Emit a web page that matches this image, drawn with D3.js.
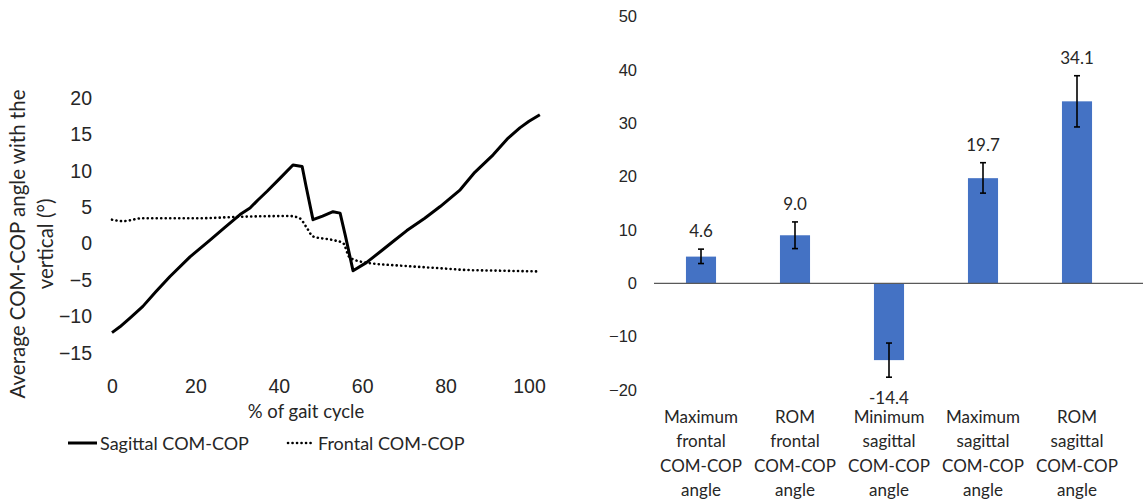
<!DOCTYPE html>
<html>
<head>
<meta charset="utf-8">
<script src="https://cdn.jsdelivr.net/npm/d3@7"></script>
<style>
  body { margin: 0; background: #fff; }
  svg { display: block; font-family: Lato, "Open Sans", sans-serif; }
  .tick text { fill: #262626; }
</style>
</head>
<body>
<svg width="1144" height="500"></svg>
<script>
// left panel: average COM-COP angle over the gait cycle
var sagittalPct = [0, 1.9, 4.5, 7.4, 10.5, 13.9, 18.7, 23.5, 27, 30.7, 33.1, 35, 37.2, 40.5, 43.4, 45.6, 46.5, 48.2, 50.5, 53, 54.7, 56, 57.8, 61, 65, 67.4, 70.7, 75, 78.7, 83.5, 87, 91.4, 95, 97.8, 100, 102.6];
var sagittalDeg = [-12.2, -11.4, -10.1, -8.6, -6.6, -4.5, -1.8, 0.5, 2.2, 4.0, 4.9, 6.0, 7.2, 9.1, 10.8, 10.6, 8.0, 3.3, 3.8, 4.4, 4.2, 1.0, -3.7, -2.6, -0.8, 0.3, 1.8, 3.5, 5.1, 7.4, 9.8, 12.2, 14.5, 15.9, 16.8, 17.7];
var frontalPct = [0, 2.6, 7.4, 21, 30.7, 42.7, 45, 46.7, 48.2, 53, 55.4, 57, 61, 69, 77, 85, 93, 101.9];
var frontalDeg = [3.3, 3.1, 3.5, 3.5, 3.7, 3.8, 3.5, 2.2, 1.0, 0.5, 0.1, -1.9, -2.6, -3.0, -3.3, -3.6, -3.7, -3.8];
var leftTicksX = [0, 20, 40, 60, 80, 100];
var leftTicksY = [-15, -10, -5, 0, 5, 10, 15, 20];

// right panel: summary angles (mean +/- SD)
var categories = [
  ["Maximum", "frontal", "COM-COP", "angle"],
  ["ROM", "frontal", "COM-COP", "angle"],
  ["Minimum", "sagittal", "COM-COP", "angle"],
  ["Maximum", "sagittal", "COM-COP", "angle"],
  ["ROM", "sagittal", "COM-COP", "angle"]
];
var barValues = [5.0, 9.0, -14.4, 19.7, 34.1];
var barLabels = ["4.6", "9.0", "-14.4", "19.7", "34.1"];
var errLow = [3.7, 6.5, -17.6, 16.9, 29.3];
var errHigh = [6.4, 11.5, -11.2, 22.6, 38.9];
var rightTicksY = [-20, -10, 0, 10, 20, 30, 40, 50];

var svg = d3.select("svg");

// ---------- left line chart ----------
var x = d3.scaleLinear().domain([0, 100]).range([112, 529]);
var y = d3.scaleLinear().domain([-15, 20]).range([353, 98]);

var gx = svg.append("g")
    .attr("transform", "translate(0," + 372 + ")")
    .call(d3.axisBottom(x).tickValues(leftTicksX).tickSize(0).tickPadding(7));
gx.select(".domain").remove();
gx.selectAll("text").attr("font-size", 19.5);

var gy = svg.append("g")
    .attr("transform", "translate(" + 92 + ",0)")
    .call(d3.axisLeft(y).tickValues(leftTicksY).tickSize(0).tickPadding(0));
gy.select(".domain").remove();
gy.selectAll("text").attr("font-size", 19.5);

var line = d3.line()
    .x(function(d) { return x(d[0]); })
    .y(function(d) { return y(d[1]); })
    .curve(d3.curveMonotoneX);

svg.append("path")
    .datum(d3.zip(frontalPct, frontalDeg))
    .attr("fill", "none")
    .attr("stroke", "#000")
    .attr("stroke-width", 2.6)
    .attr("stroke-linecap", "round")
    .attr("stroke-dasharray", "0.1 4.4")
    .attr("d", line);

svg.append("path")
    .datum(d3.zip(sagittalPct, sagittalDeg))
    .attr("fill", "none")
    .attr("stroke", "#000")
    .attr("stroke-width", 3)
    .attr("stroke-linejoin", "round")
    .attr("d", line.curve(d3.curveLinear));

svg.append("text")
    .attr("x", 306).attr("y", 418)
    .attr("text-anchor", "middle")
    .attr("font-size", 18.5)
    .attr("fill", "#262626")
    .text("% of gait cycle");

var ytitle = svg.append("text")
    .attr("transform", "translate(0,244) rotate(-90)")
    .attr("text-anchor", "middle")
    .attr("font-size", 20.5)
    .attr("fill", "#262626");
ytitle.append("tspan").attr("x", 0).attr("y", 25).text("Average COM-COP angle with the");
ytitle.append("tspan").attr("x", 0).attr("y", 53).text("vertical (°)");

// legend
var legend = svg.append("g").attr("font-size", 18).attr("fill", "#262626");
legend.append("line")
    .attr("x1", 68).attr("x2", 97).attr("y1", 443).attr("y2", 443)
    .attr("stroke", "#000").attr("stroke-width", 3);
legend.append("text").attr("x", 100).attr("y", 449.5).text("Sagittal COM-COP");
legend.append("line")
    .attr("x1", 288).attr("x2", 315).attr("y1", 443).attr("y2", 443)
    .attr("stroke", "#000").attr("stroke-width", 2.6)
    .attr("stroke-linecap", "round").attr("stroke-dasharray", "0.1 4.4");
legend.append("text").attr("x", 318).attr("y", 449.5).text("Frontal COM-COP");

// ---------- right bar chart ----------
var xb = d3.scaleBand()
    .domain(d3.range(categories.length))
    .range([654, 1124])
    .paddingInner(0.68)
    .paddingOuter(0.34);
var yb = d3.scaleLinear().domain([-20, 50]).range([390, 16.5]);

var gyb = svg.append("g")
    .attr("transform", "translate(" + 637 + ",0)")
    .call(d3.axisLeft(yb).tickValues(rightTicksY).tickSize(0).tickPadding(0));
gyb.select(".domain").remove();
gyb.selectAll("text").attr("font-size", 16.5);

svg.append("g").selectAll("rect")
    .data(barValues)
  .enter().append("rect")
    .attr("x", function(d, i) { return xb(i); })
    .attr("width", xb.bandwidth())
    .attr("y", function(d) { return yb(Math.max(0, d)); })
    .attr("height", function(d) { return Math.abs(yb(d) - yb(0)); })
    .attr("fill", "#4472C4");

// zero line
svg.append("line")
    .attr("x1", xb.range()[0]).attr("x2", xb.range()[1] + 19)
    .attr("y1", yb(0)).attr("y2", yb(0))
    .attr("stroke", "#595959").attr("stroke-width", 1.2);

// error bars
var err = svg.append("g").attr("stroke", "#000").attr("stroke-width", 1.6);
barValues.forEach(function(v, i) {
  var cx = xb(i) + xb.bandwidth() / 2;
  err.append("line").attr("x1", cx).attr("x2", cx).attr("y1", yb(errLow[i])).attr("y2", yb(errHigh[i]));
  err.append("line").attr("x1", cx - 3).attr("x2", cx + 3).attr("y1", yb(errLow[i])).attr("y2", yb(errLow[i]));
  err.append("line").attr("x1", cx - 3).attr("x2", cx + 3).attr("y1", yb(errHigh[i])).attr("y2", yb(errHigh[i]));
});

// value labels
svg.append("g").selectAll("text")
    .data(barValues)
  .enter().append("text")
    .attr("x", function(d, i) { return xb(i) + xb.bandwidth() / 2; })
    .attr("y", function(d, i) { return d >= 0 ? yb(errHigh[i]) - 12 : yb(errLow[i]) + 27; })
    .attr("text-anchor", "middle")
    .attr("font-size", 17)
    .attr("fill", "#262626")
    .text(function(d, i) { return barLabels[i]; });

// category labels
var cat = svg.append("g").selectAll("text")
    .data(categories)
  .enter().append("text")
    .attr("text-anchor", "middle")
    .attr("font-size", 17)
    .attr("fill", "#262626");
cat.selectAll("tspan")
    .data(function(d, i) { return d.map(function(s) { return [s, i]; }); })
  .enter().append("tspan")
    .attr("x", function(d) { return xb(d[1]) + xb.bandwidth() / 2; })
    .attr("y", function(d, j) { return 423 + j * 24.3; })
    .text(function(d) { return d[0]; });
</script>
</body>
</html>
